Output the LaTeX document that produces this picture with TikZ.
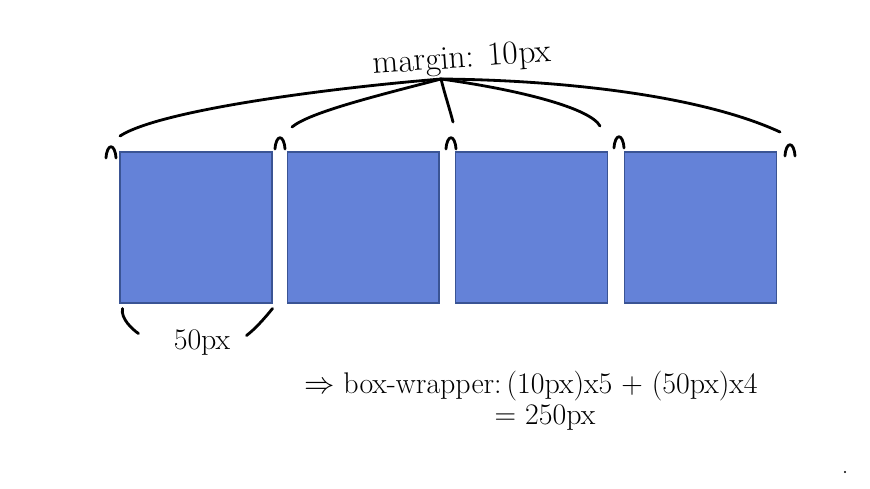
\documentclass[tikz,border=0pt]{standalone}
\usepackage{amsmath}
\usepackage{amssymb}
\usepackage{xcolor}
\usepackage{tikz}
\usetikzlibrary{positioning,calc}

\definecolor{boxblue}{HTML}{6482D8}
\definecolor{boxedge}{HTML}{3A5494}

\begin{document}
\begin{tikzpicture}[
    x=0.02cm, y=-0.02cm,
    node distance=0.32cm,
    boxitem/.style={rectangle, draw=boxedge, fill=boxblue, line width=0.6pt, minimum width=3.04cm, minimum height=3.02cm, inner sep=0pt},
    ink/.style={draw=black, line width=1.6pt, line cap=round, line join=round},
    note/.style={font=\fontsize{17}{19}\selectfont, inner sep=1pt}
]
    \useasboundingbox (0,0) rectangle (870,488);

    % the four boxes
    \node [boxitem] at (196,227.5) (b1) {};
    \node [boxitem, right=0.28cm of b1] (b2) {};
    \node [boxitem, right=0.31cm of b2] (b3) {};
    \node [boxitem, right=0.31cm of b3] (b4) {};

    % labels
    \node [note, font=\fontsize{19}{21}\selectfont, rotate=4] at (462,60) (mrg) {margin: 10px};
    \node [note] at (202,343) (w50) {50px};
    \node [note, anchor=west] at (302,386) (sum) {$\Rightarrow$ box-wrapper:\,(10px)x5 + (50px)x4};
    \node [note] at (545,418) (tot) {= 250px};

    % margin caps
    \coordinate (c1) at (111,148);
    \coordinate (c2) at (280,139);
    \coordinate (c3) at (451,139);
    \coordinate (c4) at (619,138);
    \coordinate (c5) at (790,146);
    \foreach \c in {c1,c2,c3,c4,c5}
        \draw [ink] ($(\c)+(-5,10)$) .. controls ($(\c)+(-4,-5)$) and ($(\c)+(4,-5)$) .. ($(\c)+(5,10)$);

    % lines from the margin label
    \coordinate (hub) at (441,79);
    \draw [ink] (hub) .. controls (330,88) and (160,110) .. (120,136);
    \draw [ink] (hub) .. controls (380,95) and (310,112) .. (292,127);
    \draw [ink] (hub) .. controls (445,95) and (450,110) .. (453,122);
    \draw [ink] (hub) .. controls (520,90) and (590,108) .. (600,126);
    \draw [ink] (hub) .. controls (560,80) and (700,95) .. (780,132);

    % bracket under the first box
    \draw [ink] (b1.south west) ++(3,5) .. controls ++(-2,10) and ++(-6,-4) .. ++(16,25);
    \draw [ink] (b1.south east) ++(0,5) .. controls ++(-8,10) and ++(8,-6) .. ++(-26,27);

    % stray dot
    \fill (845,472) circle (1.2);
\end{tikzpicture}
\end{document}
